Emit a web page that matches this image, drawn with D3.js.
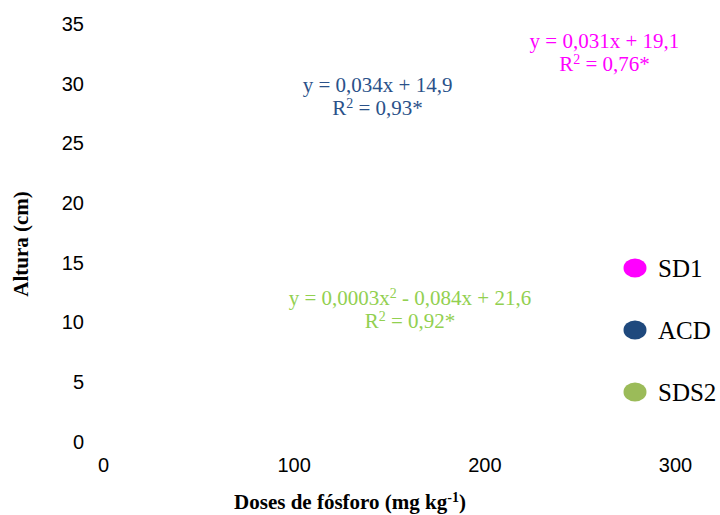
<!DOCTYPE html>
<html>
<head>
<meta charset="utf-8">
<script src="https://cdn.jsdelivr.net/npm/d3@7"></script>
<style>
  html, body { margin: 0; padding: 0; background: #fff; }
  svg { display: block; }
</style>
</head>
<body>
<svg id="chart" width="720" height="515"></svg>
<script>
// Axis ticks
const xTicks = [0, 100, 200, 300];
const yTicks = [0, 5, 10, 15, 20, 25, 30, 35];

// Series (legend entries and colours)
const seriesNames = ["SD1", "ACD", "SDS2"];
const seriesColors = ["#ff00ff", "#1f497d", "#9bbb59"];
const equationColors = ["#ff00ff", "#2a5189", "#92d050"];

// Regression equations, R² and their anchor in data units (dose, height)
const equationLines = [
  ["y = 0,031x + 19,1", "R@2 = 0,76*"],
  ["y = 0,034x + 14,9", "R@2 = 0,93*"],
  ["y = 0,0003x@2 - 0,084x + 21,6", "R@2 = 0,92*"]
];
const equationX = [263, 144, 161];
const equationY = [33.0, 29.3, 11.5];

const svg = d3.select("#chart");

const x = d3.scaleLinear().domain([0, 300]).range([103, 675]);
const y = d3.scaleLinear().domain([0, 35]).range([442, 24]);

// Y axis: labels only
const yAxis = svg.append("g")
  .attr("transform", "translate(92,0)")
  .call(d3.axisLeft(y).tickValues(yTicks).tickSize(0).tickPadding(8));
yAxis.select(".domain").remove();
yAxis.selectAll("text")
  .attr("font-family", "Liberation Sans, Arial, sans-serif")
  .attr("font-size", 20)
  .attr("fill", "#000");

// X axis: labels only
const xAxis = svg.append("g")
  .attr("transform", "translate(0,455)")
  .call(d3.axisBottom(x).tickValues(xTicks).tickSize(0).tickPadding(3));
xAxis.select(".domain").remove();
xAxis.selectAll("text")
  .attr("font-family", "Liberation Sans, Arial, sans-serif")
  .attr("font-size", 20)
  .attr("fill", "#000");

// Writes a string where "@2" marks a superscript 2
function richText(sel, str, supSize) {
  const parts = str.split("@");
  parts.forEach((p, i) => {
    if (i === 0) {
      sel.append("tspan").text(p);
    } else {
      sel.append("tspan").attr("baseline-shift", "super").attr("font-size", supSize).text(p[0]);
      if (p.length > 1) sel.append("tspan").text(p.slice(1));
    }
  });
}

// Equations
equationLines.forEach((lines, i) => {
  lines.forEach((ln, j) => {
    const t = svg.append("text")
      .attr("x", x(equationX[i]))
      .attr("y", y(equationY[i]) + j * 23)
      .attr("text-anchor", "middle")
      .attr("font-family", "Liberation Serif, Times New Roman, serif")
      .attr("font-size", 21)
      .attr("fill", equationColors[i]);
    richText(t, ln, 14);
  });
});

// Legend
const legendY = d3.scalePoint().domain(seriesNames).range([268, 392]);
const legend = svg.append("g");
seriesNames.forEach((name, i) => {
  legend.append("ellipse")
    .attr("cx", 635)
    .attr("cy", legendY(name))
    .attr("rx", 11.5)
    .attr("ry", 9.5)
    .attr("fill", seriesColors[i]);
  legend.append("text")
    .attr("x", 658)
    .attr("y", legendY(name) + 9)
    .attr("font-family", "Liberation Serif, Times New Roman, serif")
    .attr("font-size", 25)
    .attr("fill", "#000")
    .text(name);
});

// Axis titles
svg.append("text")
  .attr("transform", "translate(28,244) rotate(-90)")
  .attr("text-anchor", "middle")
  .attr("font-family", "Liberation Serif, Times New Roman, serif")
  .attr("font-weight", "bold")
  .attr("font-size", 21)
  .attr("fill", "#000")
  .text("Altura (cm)");

const xt = svg.append("text")
  .attr("x", 350)
  .attr("y", 509)
  .attr("text-anchor", "middle")
  .attr("font-family", "Liberation Serif, Times New Roman, serif")
  .attr("font-weight", "bold")
  .attr("font-size", 21)
  .attr("fill", "#000");
xt.append("tspan").text("Doses de fósforo (mg kg");
xt.append("tspan").attr("baseline-shift", "super").attr("font-size", 14).text("-1");
xt.append("tspan").text(")");
</script>
</body>
</html>
